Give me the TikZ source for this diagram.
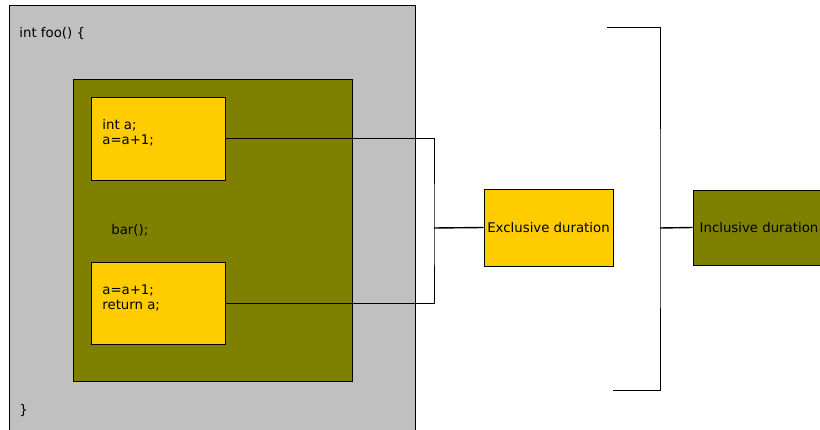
\documentclass[tikz,border=0pt]{standalone}
\usepackage{fontspec}
\setmainfont{DejaVu Sans}
\usetikzlibrary{positioning}
\definecolor{panelgray}{RGB}{192,192,192}
\definecolor{codeolive}{RGB}{128,128,0}
\definecolor{codegold}{RGB}{255,204,0}
\tikzset{
    block/.style = {rectangle, draw, line width=0.8pt, inner sep=0pt, anchor=north west},
    code/.style = {align=left, anchor=base west, inner sep=0pt, font=\fontsize{13.3}{15.5}\selectfont},
    label/.style = {rectangle, draw, line width=0.8pt, inner sep=0pt, font=\fontsize{13.3}{15.5}\selectfont}}
\begin{document}
\begin{tikzpicture}[x=1pt, y=-1pt, line width=0.8pt]
    \useasboundingbox (0,0) rectangle (820,430);
    % code boxes
    \node[block, fill=panelgray, minimum width=406pt, minimum height=440pt] (foo) at (9,5) {};
    \node[block, fill=codeolive, minimum width=279pt, minimum height=302pt] (bar) at (73,79) {};
    \node[block, fill=codegold, minimum width=134pt, minimum height=83pt] (pre) at (91,97) {};
    \node[block, fill=codegold, minimum width=134pt, minimum height=82pt] (post) at (91,262) {};
    \node[code] (head) at (19,38) {int foo() \{};
    \node[code] (tail) at (19,415) {\}};
    \node[code] (call) at (111,235) {bar();};
    % last line sits on the given baseline
    \node[code] (prebody) at (102,145) {int a;\\a=a+1;};
    \node[code] (postbody) at (102,310) {a=a+1;\\return a;};
    % durations
    \node[label, fill=codegold, minimum width=129pt, minimum height=77pt] (excl) at (548.5,227.5) {Exclusive duration};
    \node[label, fill=codeolive, minimum width=132pt, minimum height=75pt] (incl) at (759,227.5) {Inclusive duration};
    % brackets
    \coordinate (exbrk) at (434,228);
    \coordinate (inbrk) at (660,228);
    \coordinate (intop) at (607,27);
    \coordinate (inbot) at (613,390);
    \draw (pre.east) -| (exbrk) |- (post.east);
    \draw[line width=1.4pt] (exbrk) -- (excl.west);
    \draw (intop) -| (inbrk) |- (inbot);
    \draw[line width=1.4pt] (inbrk) -- (incl.west);
\end{tikzpicture}
\end{document}
